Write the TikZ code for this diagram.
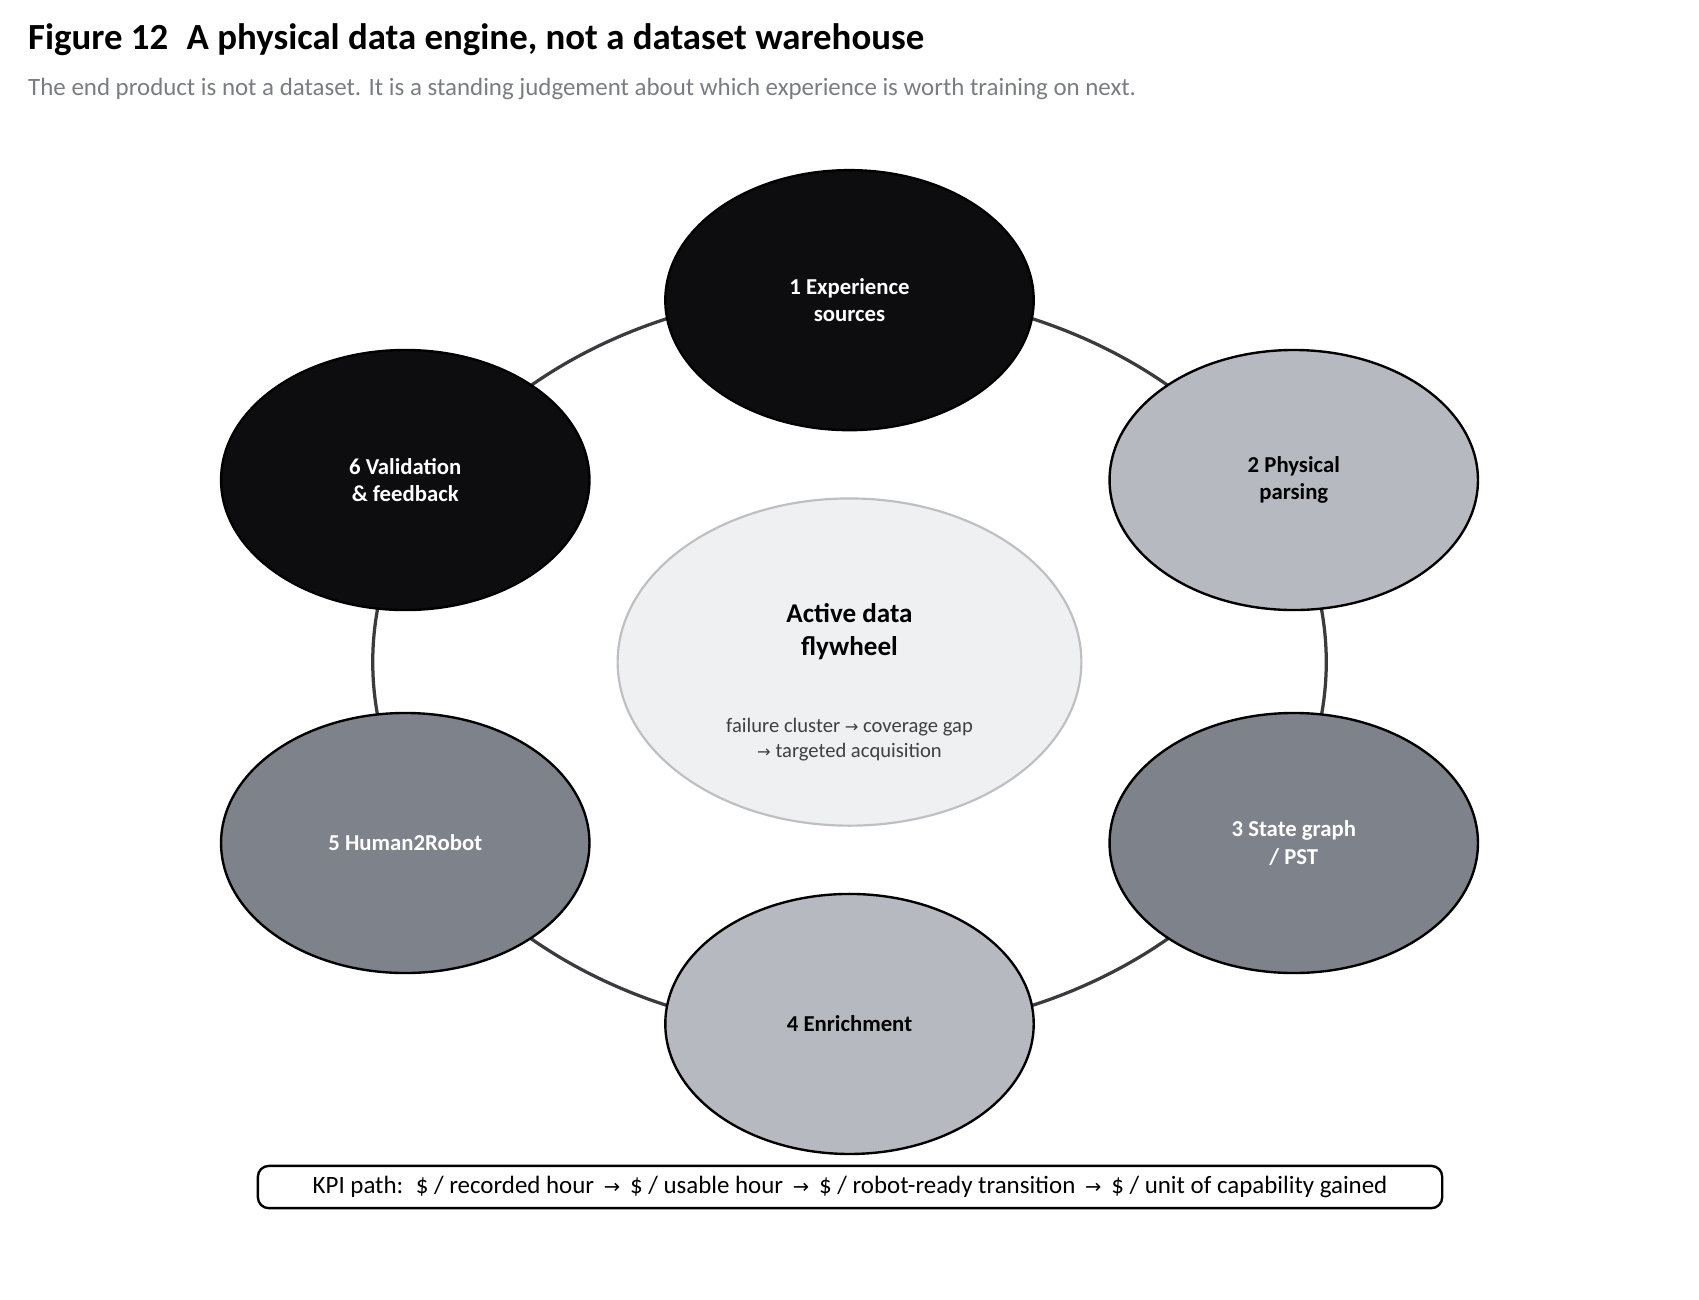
\documentclass[tikz,border=0pt]{standalone}
\usepackage{fontspec}
\setmainfont{Carlito}
\newfontfamily\arr{DejaVu Sans}
\usetikzlibrary{shapes.geometric}
\definecolor{cdark}{HTML}{0D0D0F}
\definecolor{clight}{HTML}{B6B9BF}
\definecolor{cmid}{HTML}{7E828A}
\definecolor{cring}{HTML}{3A3A3F}
\definecolor{ccen}{HTML}{EFF0F2}
\definecolor{ccenb}{HTML}{BDBFC3}
\definecolor{csub}{HTML}{7A7C82}
\begin{document}
\begin{tikzpicture}[x=0.5pt,y=-0.5pt,
  stage/.style={ellipse,draw=black,line width=1.1pt,minimum width=170pt,minimum height=120pt,inner sep=0pt,align=center,font=\fontsize{10.5}{12.5}\selectfont\bfseries},
  dark/.style={stage,fill=cdark,text=white},
  light/.style={stage,fill=clight,text=black},
  mid/.style={stage,fill=cmid,text=white}]
\useasboundingbox (0,0) rectangle (1568,1199);
\node[anchor=base west,font=\fontsize{17}{20}\selectfont\bfseries] (title) at (19,46) {Figure 12\enspace A physical data engine, not a dataset warehouse};
\node[anchor=base west,font=\fontsize{11.5}{14}\selectfont,text=csub] (sub) at (19,88) {The end product is not a dataset. It is a standing judgement about which experience is worth training on next.};
\draw[cring,line width=1.5pt] (784,611) ellipse [x radius=440, y radius=343];
\node[ellipse,draw=ccenb,line width=1pt,fill=ccen,minimum width=214pt,minimum height=151pt] (hub) at (784,611) {};
\node[font=\fontsize{12.5}{15}\selectfont\bfseries,align=center] (hubt) at (784,583) {Active data\\flywheel};
\node[font=\fontsize{9.5}{11.5}\selectfont,align=center,text=black!75] (hubs) at (784,683) {failure cluster {\arr\fontsize{7.5}{9}\selectfont→} coverage gap\\{\arr\fontsize{7.5}{9}\selectfont→} targeted acquisition};
\node[dark] (n1) at (784,277) {1 Experience\\sources};
\node[light] (n2) at (1194,443) {2 Physical\\parsing};
\node[mid] (n3) at (1194,778) {3 State graph\\/ PST};
\node[light] (n4) at (784,945) {4 Enrichment};
\node[mid] (n5) at (374,778) {5 Human2Robot};
\node[dark] (n6) at (374,443) {6 Validation\\\& feedback};
\node[draw=black,line width=1.1pt,rounded corners=5pt,minimum width=546.5pt,minimum height=19.5pt,inner sep=0pt,font=\fontsize{11.5}{14}\selectfont] (kpi) at (784.5,1095.5) {KPI path:\enspace \$ / recorded hour \,{\arr\fontsize{9}{11}\selectfont→}\, \$ / usable hour \,{\arr\fontsize{9}{11}\selectfont→}\, \$ / robot-ready transition \,{\arr\fontsize{9}{11}\selectfont→}\, \$ / unit of capability gained};
\end{tikzpicture}
\end{document}
